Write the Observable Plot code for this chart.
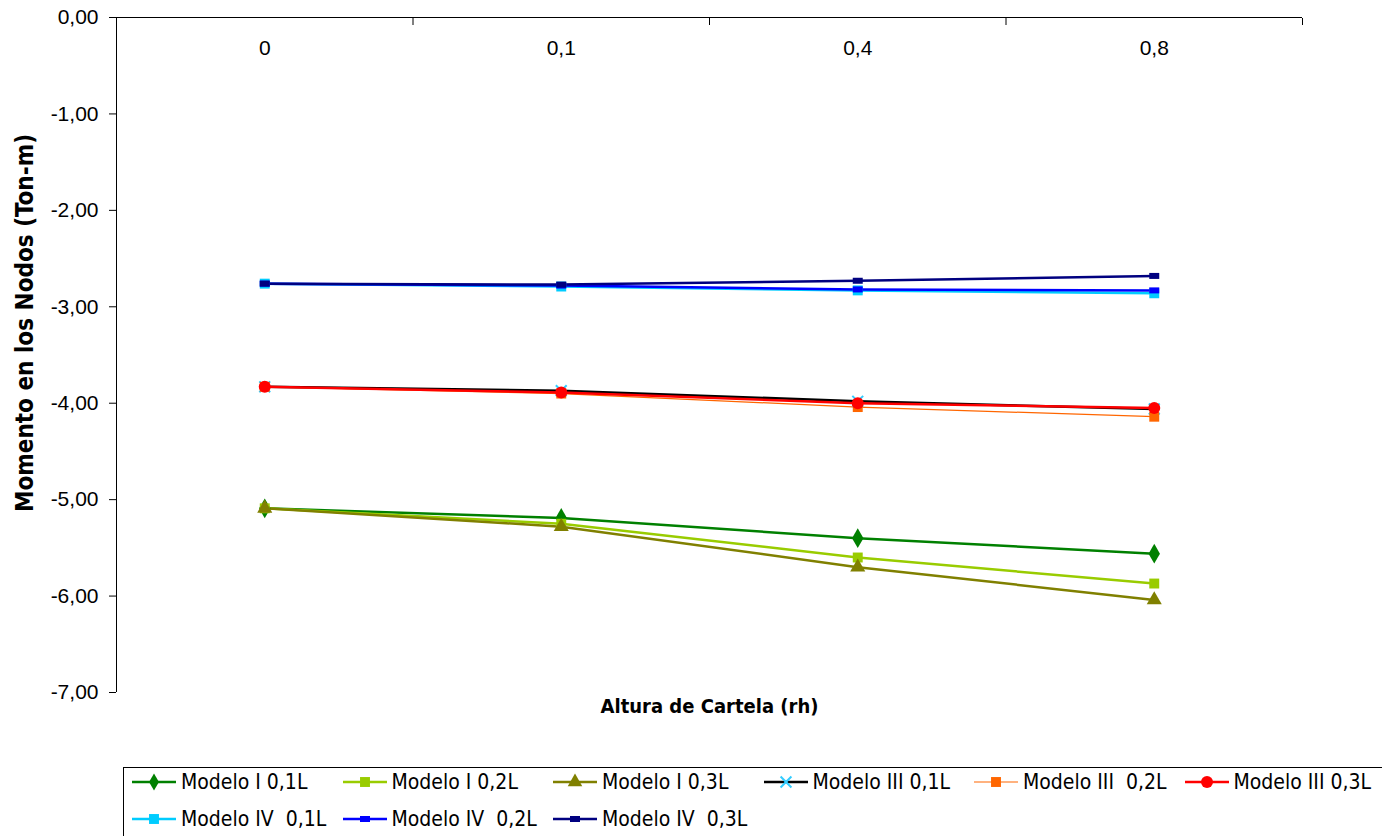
<!DOCTYPE html>
<html><head><meta charset="utf-8">
<script src="https://cdn.jsdelivr.net/npm/d3@7"></script>
<script src="https://cdn.jsdelivr.net/npm/@observablehq/plot@0.6"></script>
<style>
html,body{margin:0;padding:0;background:#fff;overflow:hidden;width:1382px;height:836px}
#chart{position:absolute;left:0;top:0}
#legend{position:absolute;left:123px;top:767px;width:1300px;height:90px;border:1px solid #000;box-sizing:border-box}
.item{position:absolute;display:flex;align-items:center;height:26px;font-family:"DejaVu Sans Condensed";font-size:21px;white-space:pre;color:#000}
.item svg{margin-right:5px;display:block}
</style></head><body>
<div id="chart"></div><div id="legend"></div>
<script>
const categories = ["0", "0,1", "0,4", "0,8"];
const seriesNames = ["Modelo I 0,1L", "Modelo I 0,2L", "Modelo I 0,3L", "Modelo III 0,1L", "Modelo III  0,2L", "Modelo III 0,3L", "Modelo IV  0,1L", "Modelo IV  0,2L", "Modelo IV  0,3L"];
const modeloI_01 = [-5.09, -5.19, -5.40, -5.56];
const modeloI_02 = [-5.09, -5.25, -5.60, -5.87];
const modeloI_03 = [-5.09, -5.28, -5.70, -6.04];
const modeloIII_01 = [-3.83, -3.87, -3.98, -4.06];
const modeloIII_02 = [-3.83, -3.90, -4.04, -4.14];
const modeloIII_03 = [-3.83, -3.89, -4.00, -4.05];
const modeloIV_01 = [-2.76, -2.79, -2.83, -2.86];
const modeloIV_02 = [-2.76, -2.78, -2.82, -2.83];
const modeloIV_03 = [-2.76, -2.77, -2.73, -2.68];
const yTicks = [0, -1, -2, -3, -4, -5, -6, -7];
const xTitle = "Altura de Cartela (rh)";
const yTitle = "Momento en los Nodos (Ton-m)";

const seriesValues = [modeloI_01, modeloI_02, modeloI_03, modeloIII_01, modeloIII_02, modeloIII_03, modeloIV_01, modeloIV_02, modeloIV_03];

const dash = {draw(ctx) { ctx.rect(-5, -3, 10, 6); }};
const styles = [
  {line: "#008000", marker: "#008000", symbol: "diamond", r: 6, lr: 5.2, w: 2.5},
  {line: "#99CC00", marker: "#99CC00", symbol: "square", r: 5.6, lr: 5.6, w: 2.5},
  {line: "#808000", marker: "#808000", symbol: "triangle", r: 5.6, lr: 5.4, w: 2.5},
  {line: "#000000", marker: "#33CCFF", symbol: "times", r: 5, lr: 5, w: 2.5, stroke: true},
  {line: "#FF6600", marker: "#FF6600", symbol: "square", r: 5.6, lr: 5.6, w: 1.2},
  {line: "#FF0000", marker: "#FF0000", symbol: "circle", r: 6, lr: 6, w: 2.5},
  {line: "#00CCFF", marker: "#00CCFF", symbol: "square", r: 5.6, lr: 5.6, w: 2.5},
  {line: "#0000FF", marker: "#0000FF", symbol: dash, r: 4, lr: 4, w: 2.5},
  {line: "#000080", marker: "#000080", symbol: dash, r: 4, lr: 4, w: 2.5}
];

const data = seriesNames.flatMap((s, si) => categories.map((c, i) => ({series: s, si, cat: c, x: i + 0.5, y: seriesValues[si][i]})));

const marks = [
  Plot.ruleX([0], {stroke: "#000", strokeWidth: 1}),
  Plot.ruleY([0], {stroke: "#000", strokeWidth: 1}),
  Plot.axisX({anchor: "top", ticks: [1, 2, 3, 4], tickSize: 7, dy: 7, tickFormat: () => "", label: null}),
  Plot.axisY({ticks: yTicks, tickSize: 7, tickPadding: 11, tickFormat: d => d.toFixed(2).replace(".", ","), label: null, fontSize: 21, fontFamily: "Liberation Sans"}),
  Plot.text(categories, {x: (d, i) => i + 0.5, frameAnchor: "top", lineAnchor: "middle", dy: 31, fontSize: 21, fontFamily: "Liberation Sans"}),
  Plot.text([yTitle], {frameAnchor: "left", textAnchor: "middle", lineAnchor: "middle", dx: -91, dy: -32, rotate: -90, fontSize: 24, fontWeight: "bold", fontFamily: "DejaVu Sans Condensed"}),
  Plot.text([xTitle], {frameAnchor: "bottom", lineAnchor: "middle", dy: 14, fontSize: 20, fontWeight: "bold", fontFamily: "DejaVu Sans Condensed"})
];
seriesNames.forEach((s, si) => {
  const st = styles[si];
  const d = data.filter(p => p.si === si);
  marks.push(Plot.line(d, {x: "x", y: "y", stroke: st.line, strokeWidth: st.w}));
});
seriesNames.forEach((s, si) => {
  const st = styles[si];
  const d = data.filter(p => p.si === si);
  marks.push(st.stroke
    ? Plot.dot(d, {x: "x", y: "y", symbol: st.symbol, r: st.r, stroke: st.marker, fill: "none", strokeWidth: 2})
    : Plot.dot(d, {x: "x", y: "y", symbol: st.symbol, r: st.r, fill: st.marker, stroke: "none"}));
});

const chart = Plot.plot({
  width: 1382, height: 730,
  marginTop: 17, marginBottom: 38, marginLeft: 116, marginRight: 80,
  x: {domain: [0, 4], axis: null},
  y: {domain: [-7, 0], axis: null},
  style: {fontFamily: "Liberation Sans", fontSize: "21px", color: "#000", background: "#fff"},
  marks
});
document.getElementById("chart").appendChild(chart);

// legend
const legend = d3.select("#legend");
const symMap = {diamond: d3.symbolDiamond, square: d3.symbolSquare, triangle: d3.symbolTriangle, times: d3.symbolTimes, circle: d3.symbolCircle};
seriesNames.forEach((s, si) => {
  const st = styles[si];
  const col = si % 6, row = Math.floor(si / 6);
  const item = legend.append("div").attr("class", "item")
    .style("left", (8 + col * 210.5) + "px").style("top", (14 + row * 37 - 13) + "px");
  const svg = item.append("svg").attr("width", 44).attr("height", 26);
  svg.append("line").attr("x1", 0).attr("x2", 44).attr("y1", 13).attr("y2", 13)
    .attr("stroke", st.line).attr("stroke-width", st.w);
  const g = svg.append("g").attr("transform", "translate(22,13)");
  if (typeof st.symbol === "string") {
    const p = d3.symbol(symMap[st.symbol], Math.PI * st.lr * st.lr)();
    if (st.stroke) g.append("path").attr("d", p).attr("fill", "none").attr("stroke", st.marker).attr("stroke-width", 2);
    else g.append("path").attr("d", p).attr("fill", st.marker);
  } else {
    g.append("rect").attr("x", -5).attr("y", -3).attr("width", 10).attr("height", 6).attr("fill", st.marker);
  }
  item.append("span").text(s);
});
</script>
</body></html>
